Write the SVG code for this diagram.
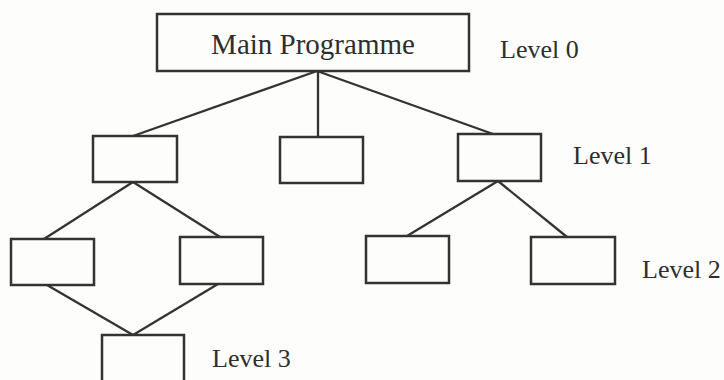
<svg xmlns="http://www.w3.org/2000/svg" width="724" height="380" viewBox="0 0 724 380">
  <style>
    .box { fill: none; stroke: #333; stroke-width: 2.5; }
    .edge { stroke: #333; stroke-width: 2.3; fill: none; }
    .title { font-family: "Liberation Serif", "Times New Roman", serif; font-size: 29px; fill: #2e2e2e; }
    .lvl { font-family: "Liberation Serif", "Times New Roman", serif; font-size: 26px; fill: #2e2e2e; }
  </style>
  <rect width="724" height="380" fill="#fdfdfc"/>

  <!-- connectors -->
  <g id="connectors">
    <line class="edge" x1="317" y1="71" x2="133" y2="136"/>
    <line class="edge" x1="318" y1="71" x2="318" y2="137"/>
    <line class="edge" x1="317" y1="71" x2="493" y2="134"/>
    <line class="edge" x1="133" y1="182" x2="44" y2="239"/>
    <line class="edge" x1="133" y1="182" x2="220" y2="237"/>
    <line class="edge" x1="498" y1="181" x2="407" y2="236"/>
    <line class="edge" x1="498" y1="181" x2="567" y2="237"/>
    <line class="edge" x1="47" y1="285" x2="133" y2="335"/>
    <line class="edge" x1="218" y1="284" x2="133" y2="335"/>
  </g>

  <!-- level 0 -->
  <g id="main">
    <rect class="box" x="157" y="14" width="312" height="57"/>
    <text class="title" x="313" y="54" text-anchor="middle">Main Programme</text>
  </g>

  <!-- level 1 -->
  <g id="l1a"><rect class="box" x="93" y="136" width="84" height="46"/></g>
  <g id="l1b"><rect class="box" x="280" y="137" width="83" height="46"/></g>
  <g id="l1c"><rect class="box" x="458" y="134" width="83" height="47"/></g>

  <!-- level 2 -->
  <g id="l2a"><rect class="box" x="11" y="239" width="83" height="46"/></g>
  <g id="l2b"><rect class="box" x="180" y="237" width="83" height="47"/></g>
  <g id="l2c"><rect class="box" x="366" y="236" width="83" height="47"/></g>
  <g id="l2d"><rect class="box" x="531" y="237" width="84" height="47"/></g>

  <!-- level 3 -->
  <g id="l3a"><rect class="box" x="102" y="335" width="82" height="60"/></g>

  <!-- level labels -->
  <g id="labels">
    <text class="lvl" x="500" y="58">Level 0</text>
    <text class="lvl" x="573" y="164">Level 1</text>
    <text class="lvl" x="642" y="278">Level 2</text>
    <text class="lvl" x="212" y="367">Level 3</text>
  </g>
</svg>
